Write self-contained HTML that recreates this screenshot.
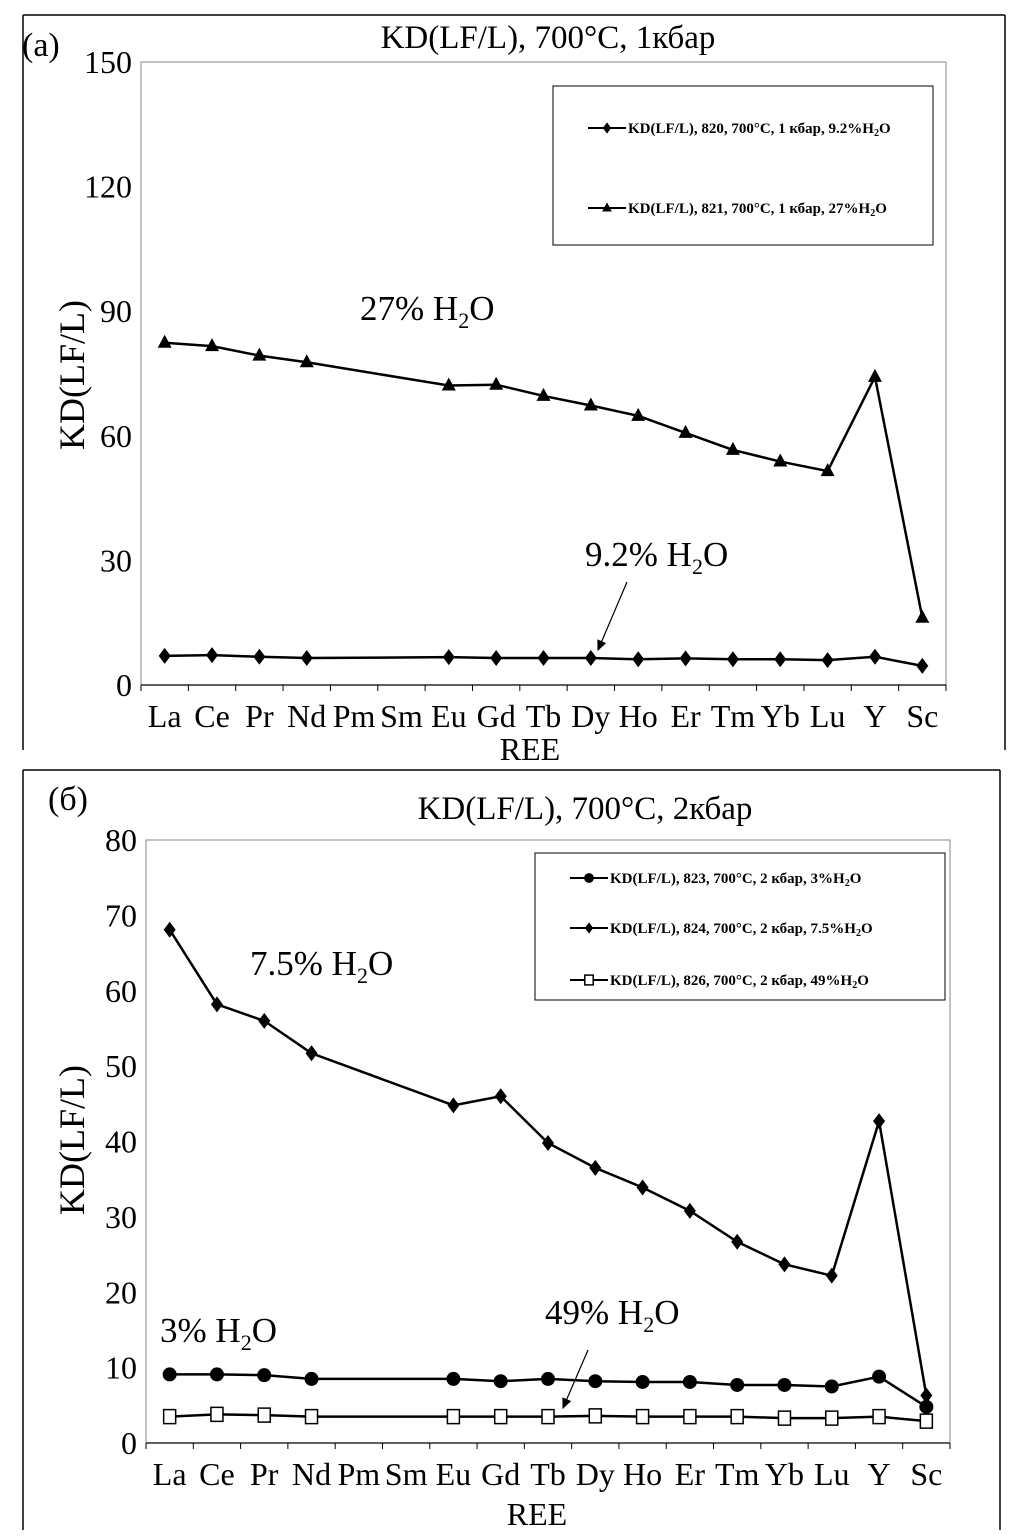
<!DOCTYPE html>
<html><head><meta charset="utf-8"><style>
body{margin:0;background:#fff;}
svg{display:block;font-family:"Liberation Serif",serif;}
</style></head><body>
<svg id="s" width="1016" height="1537" xmlns="http://www.w3.org/2000/svg">
<defs><marker id="ah" markerWidth="10" markerHeight="10" refX="8" refY="4" orient="auto"><path d="M0,0 L9,4 L0,8 Z" fill="#000"/></marker></defs>
<g stroke="#000" stroke-width="1.5" fill="none">
<line x1="23" y1="15" x2="1005" y2="15"/><line x1="23" y1="15" x2="23" y2="750"/><line x1="1005" y1="15" x2="1005" y2="750"/>
</g>
<text x="22" y="56" font-size="34">(а)</text>
<text x="548" y="48" font-size="33" text-anchor="middle">KD(LF/L), 700°C, 1кбар</text>
<text transform="translate(84,375) rotate(-90)" font-size="36" text-anchor="middle">KD(LF/L)</text>
<text x="530" y="760" font-size="32" text-anchor="middle">REE</text>
<g>
<rect x="553" y="86" width="380" height="159" fill="#fff" stroke="#000" stroke-width="1"/>
</g>
<text x="360" y="320" font-size="35">27% H<tspan font-size="22" dy="8">2</tspan><tspan dy="-8">O</tspan></text>
<text x="585" y="566" font-size="35">9.2% H<tspan font-size="22" dy="8">2</tspan><tspan dy="-8">O</tspan></text>
<line x1="627" y1="582" x2="598" y2="650" stroke="#000" stroke-width="1.2" marker-end="url(#ah)"/>
<g stroke="#000" stroke-width="1.5" fill="none">
<line x1="23" y1="770" x2="1000" y2="770"/><line x1="23" y1="770" x2="23" y2="1530"/><line x1="1000" y1="770" x2="1000" y2="1530"/>
</g>
<text x="48" y="810" font-size="34">(б)</text>
<text x="585" y="819" font-size="33" text-anchor="middle">KD(LF/L), 700°C, 2кбар</text>
<text transform="translate(84,1140) rotate(-90)" font-size="36" text-anchor="middle">KD(LF/L)</text>
<text x="537" y="1525" font-size="32" text-anchor="middle">REE</text>
<g>
<rect x="535" y="853" width="410" height="147" fill="#fff" stroke="#000" stroke-width="1"/>
</g>
<text x="250" y="975" font-size="35">7.5% H<tspan font-size="22" dy="8">2</tspan><tspan dy="-8">O</tspan></text>
<text x="160" y="1342" font-size="35">3% H<tspan font-size="22" dy="8">2</tspan><tspan dy="-8">O</tspan></text>
<text x="545" y="1324" font-size="35">49% H<tspan font-size="22" dy="8">2</tspan><tspan dy="-8">O</tspan></text>
<line x1="588" y1="1350" x2="563" y2="1408" stroke="#000" stroke-width="1.2" marker-end="url(#ah)"/>
</svg>
<script>
const categories=["La","Ce","Pr","Nd","Pm","Sm","Eu","Gd","Tb","Dy","Ho","Er","Tm","Yb","Lu","Y","Sc"];
const aTicks=[0,30,60,90,120,150];
const bTicks=[0,10,20,30,40,50,60,70,80];
const a27=[82.4,81.6,79.3,77.7,null,null,72.1,72.3,69.6,67.3,64.8,60.7,56.6,53.8,51.5,74.2,16.2];
const a92=[7.0,7.2,6.8,6.5,null,null,6.7,6.5,6.5,6.5,6.2,6.4,6.2,6.2,6.0,6.8,4.6];
const b75=[68.1,58.2,56.0,51.7,null,null,44.8,46.0,39.8,36.5,33.9,30.8,26.7,23.7,22.2,42.7,6.3];
const b3=[9.1,9.1,9.0,8.5,null,null,8.5,8.2,8.5,8.2,8.1,8.1,7.7,7.7,7.5,8.8,4.8];
const b49=[3.5,3.8,3.7,3.5,null,null,3.5,3.5,3.5,3.6,3.5,3.5,3.5,3.3,3.3,3.5,2.9];
const NS="http://www.w3.org/2000/svg";
const svg=document.getElementById('s');
function mk(tag,at,parent){const e=document.createElementNS(NS,tag);for(const k in at)e.setAttribute(k,at[k]);(parent||svg).appendChild(e);return e;}
function panel(p){
  const xS=i=>p.left+(i+0.5)*(p.right-p.left)/categories.length;
  const yS=v=>p.bottom-(v/p.max)*(p.bottom-p.top);
  const g=mk('g',{});
  
  
  const r=mk('rect',{x:p.left,y:p.top,width:p.right-p.left,height:p.bottom-p.top,fill:'none',stroke:'#888','stroke-width':1},g);
  
  
  const ax=mk('line',{x1:p.left,y1:p.bottom,x2:p.right,y2:p.bottom,stroke:'#000','stroke-width':1.2},g);
  
  
  for(let i=0;i<=categories.length;i++){const x=p.left+i*(p.right-p.left)/categories.length;mk('line',{x1:x,y1:p.bottom,x2:x,y2:p.bottom+6,stroke:'#000'},g);}
  categories.forEach((c,i)=>{const t=mk('text',{x:xS(i),y:p.bottom+42,'font-size':32,'text-anchor':'middle'},g);t.textContent=c;
    
    });
  p.ticks.forEach(v=>{const t=mk('text',{x:p.left-9,y:yS(v)+11,'font-size':32,'text-anchor':'end'},g);t.textContent=v;
    
    });
  p.series.forEach(s=>{
    let d='';s.vals.forEach((v,i)=>{if(v==null)return;d+=(d?'L':'M')+xS(i)+','+yS(v);});
    const l=mk('path',{d:d,fill:'none',stroke:'#000','stroke-width':2.5},g);
    
    
    s.vals.forEach((v,i)=>{if(v==null)return;const m=marker(s.m,xS(i),yS(v),g);
      
      });
  });
  p.legend.forEach(L=>{
    mk('line',{x1:L.x,y1:L.y,x2:L.x+38,y2:L.y,stroke:'#000','stroke-width':2},g);
    marker(L.m,L.x+19,L.y,g,0.7);
    const t=mk('text',{x:L.x+40,y:L.y+5,'font-size':15,'font-weight':'bold'},g);
    t.innerHTML=L.t;
    
    
  });
}
function marker(type,x,y,g,sc){sc=sc||1;
  if(type==='diamond'){const s=8*sc;return mk('path',{d:`M${x},${y-s}L${x+6*sc},${y}L${x},${y+s}L${x-6*sc},${y}Z`,fill:'#000'},g);}
  if(type==='tri'){const s=8*sc;return mk('path',{d:`M${x},${y-s}L${x+7*sc},${y+5*sc}L${x-7*sc},${y+5*sc}Z`,fill:'#000'},g);}
  if(type==='circle'){return mk('circle',{cx:x,cy:y,r:7*sc,fill:'#000'},g);}
  return mk('rect',{x:x-6*sc,y:y-7*sc,width:12*sc,height:14*sc,fill:'#fff',stroke:'#000','stroke-width':1.5},g);
}
const sub='H<tspan font-size="10" dy="3">2</tspan><tspan dy="-3">O</tspan>';
panel({id:'panel-a',left:141,right:946,top:62,bottom:685,max:150,ticks:aTicks,
  series:[{name:'kd-821-27pct',vals:a27,m:'tri'},{name:'kd-820-9-2pct',vals:a92,m:'diamond'}],
  legend:[{x:588,y:128,m:'diamond',t:'KD(LF/L), 820, 700°C, 1 кбар, 9.2%'+sub},{x:588,y:208,m:'tri',t:'KD(LF/L), 821, 700°C, 1 кбар, 27%'+sub}]});
panel({id:'panel-b',left:146,right:950,top:840,bottom:1443,max:80,ticks:bTicks,
  series:[{name:'kd-824-7-5pct',vals:b75,m:'diamond'},{name:'kd-823-3pct',vals:b3,m:'circle'},{name:'kd-826-49pct',vals:b49,m:'square'}],
  legend:[{x:570,y:878,m:'circle',t:'KD(LF/L), 823, 700°C, 2 кбар, 3%'+sub},{x:570,y:928,m:'diamond',t:'KD(LF/L), 824, 700°C, 2 кбар, 7.5%'+sub},{x:570,y:980,m:'square',t:'KD(LF/L), 826, 700°C, 2 кбар, 49%'+sub}]});
</script>
</body></html>
